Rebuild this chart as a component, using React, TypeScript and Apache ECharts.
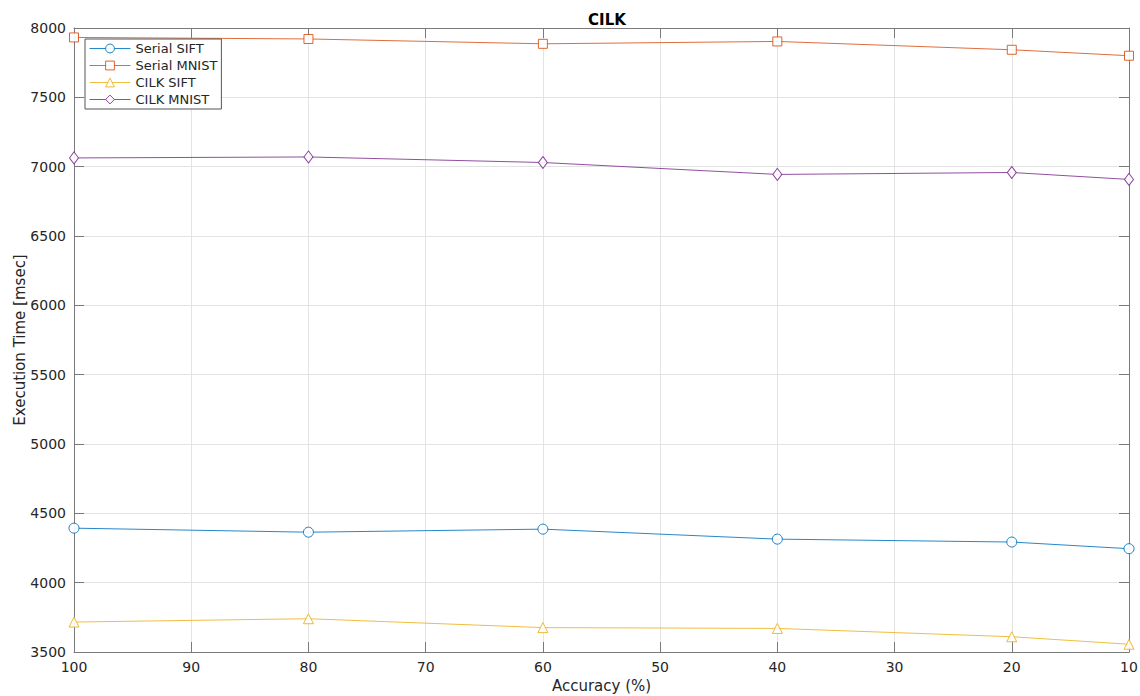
import React, { useEffect, useRef } from "react";
import * as echarts from "echarts";

const accuracy = [100, 80, 60, 40, 20, 10];
const serialSift = [4393, 4364, 4386, 4314, 4293, 4245];
const serialMnist = [7932, 7921, 7886, 7903, 7843, 7800];
const cilkSift = [3716, 3740, 3676, 3670, 3610, 3556];
const cilkMnist = [7063, 7070, 7030, 6944, 6958, 6908];

const seriesDefs = [
  { name: "Serial SIFT", data: serialSift, color: "#0072BD", symbol: "circle" },
  { name: "Serial MNIST", data: serialMnist, color: "#D95319", symbol: "rect" },
  { name: "CILK SIFT", data: cilkSift, color: "#EDB120", symbol: "triangle" },
  { name: "CILK MNIST", data: cilkMnist, color: "#7E2F8E", symbol: "diamond" },
];

const FONT = "DejaVu Sans";
const TXT = "#262626";
const AX = "#7a7a7a";

export default function App() {
  const ref = useRef<HTMLDivElement>(null);
  useEffect(() => {
    if (!ref.current) return;
    const chart = echarts.init(ref.current, undefined, { renderer: "svg" });
    const axisCommon = {
      axisLine: { show: true, lineStyle: { color: AX, width: 1 } },
      axisTick: { show: true, inside: true, length: 10, lineStyle: { color: AX } },
    };
    chart.setOption({
      animation: false,
      backgroundColor: "#fff",
      textStyle: { fontFamily: FONT },
      title: {
        text: "CILK",
        left: 602,
        top: 7,
        textAlign: "center",
        textStyle: { fontFamily: FONT, fontSize: 15, fontWeight: "bold", color: "#000" },
      },
      grid: { left: 74, right: 11, top: 28, bottom: 44, containLabel: false, outerBoundsMode: "none" },
      legend: {
        orient: "vertical",
        left: 85,
        top: 39,
        padding: [3, 4, 3, 4],
        itemWidth: 41,
        itemHeight: 11,
        itemGap: 4,
        backgroundColor: "#fff",
        borderColor: "#555",
        borderWidth: 1,
        borderRadius: 0,
        lineStyle: { width: 1 },
        itemStyle: { borderWidth: 1 },
        textStyle: { fontFamily: FONT, fontSize: 13, color: TXT },
        data: seriesDefs.map((s) => s.name),
      },
      xAxis: [
        {
          type: "value",
          min: 10,
          max: 100,
          interval: 10,
          inverse: true,
          name: "Accuracy (%)",
          nameLocation: "middle",
          nameGap: 26,
          nameMoveOverlap: false,
          nameTextStyle: { fontFamily: FONT, fontSize: 15, color: TXT },
          ...axisCommon,
          axisLabel: { color: TXT, fontFamily: FONT, fontSize: 14, margin: 8, formatter: (v: number) => String(v) },
          splitLine: { show: true, lineStyle: { color: "#e3e3e3", width: 1 } },
        },
        {
          type: "value",
          position: "top",
          min: 10,
          max: 100,
          interval: 10,
          inverse: true,
          ...axisCommon,
          axisLabel: { show: false },
          splitLine: { show: false },
        },
      ],
      yAxis: [
        {
          type: "value",
          min: 3500,
          max: 8000,
          interval: 500,
          name: "Execution Time [msec]",
          nameLocation: "middle",
          nameGap: 47,
          nameMoveOverlap: false,
          nameTextStyle: { fontFamily: FONT, fontSize: 15, color: TXT },
          ...axisCommon,
          axisLabel: { color: TXT, fontFamily: FONT, fontSize: 14, margin: 8, formatter: (v: number) => String(v) },
          splitLine: { show: true, lineStyle: { color: "#e3e3e3", width: 1 } },
        },
        {
          type: "value",
          position: "right",
          min: 3500,
          max: 8000,
          interval: 500,
          ...axisCommon,
          axisLabel: { show: false },
          splitLine: { show: false },
        },
      ],
      series: seriesDefs.map((s) => ({
        name: s.name,
        type: "line",
        xAxisIndex: 0,
        yAxisIndex: 0,
        data: accuracy.map((x, i) => [x, s.data[i]]),
        symbol: s.symbol,
        symbolSize: s.symbol === "diamond" ? [9, 12] : s.symbol === "rect" ? 9 : 10,
        showAllSymbol: true,
        lineStyle: { color: s.color, width: 1, opacity: 0.85 },
        itemStyle: { color: "#fff", borderColor: s.color, borderWidth: 1, opacity: 0.9 },
        emphasis: { disabled: true },
        clip: false,
      })),
    });
    return () => chart.dispose();
  }, []);
  return <div ref={ref} style={{ width: 1140, height: 696, position: "absolute", left: 0, top: 0 }} />;
}
